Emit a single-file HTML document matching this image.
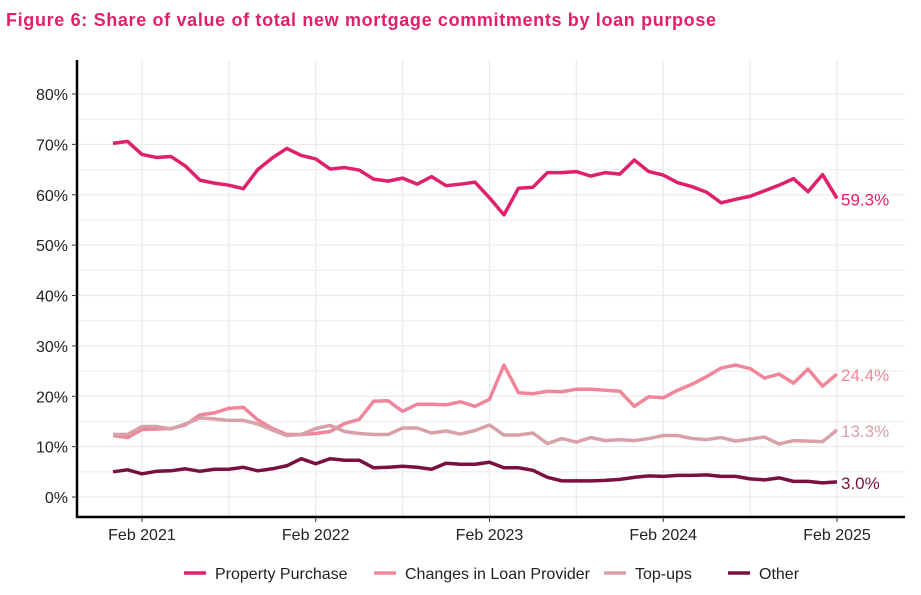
<!DOCTYPE html>
<html><head><meta charset="utf-8"><style>
body{margin:0;background:#fff;font-family:"Liberation Sans",Arial,sans-serif}
</style></head><body>
<svg id="c" width="921" height="590" xmlns="http://www.w3.org/2000/svg">
<text x="6" y="26" fill="#e0206b" font-size="18" font-weight="bold" textLength="710" lengthAdjust="spacing">Figure 6:  Share of value of total new mortgage commitments by loan purpose</text>
<g id="grid"></g><g id="axes"></g><g id="lines"></g><g id="legend"></g>
</svg>
<script>
const months = 51; // Dec 2020 .. Feb 2025
const xTickLabels = ["Feb 2021","Feb 2022","Feb 2023","Feb 2024","Feb 2025"];
const xTickIdx = [2,14,26,38,50];
const yTicks = [0,10,20,30,40,50,60,70,80];
const propertyPurchase = [70.2,70.6,68,67.4,67.6,65.7,62.9,62.3,61.9,61.2,65,67.3,69.2,67.8,67.1,65.1,65.4,64.9,63.1,62.7,63.3,62.1,63.6,61.8,62.1,62.5,59.4,56,61.3,61.5,64.4,64.4,64.6,63.7,64.4,64.1,66.9,64.6,63.9,62.4,61.6,60.5,58.4,59.1,59.7,60.8,61.9,63.2,60.6,64.0,59.3];
const changesProvider = [12.2,11.8,13.4,13.5,13.6,14.3,16.3,16.7,17.6,17.8,15.3,13.6,12.4,12.4,12.6,13.0,14.6,15.4,19.0,19.1,17.0,18.4,18.4,18.3,18.9,18.0,19.4,26.2,20.7,20.5,21.0,20.9,21.4,21.4,21.2,21.0,18.0,19.9,19.7,21.2,22.4,23.9,25.6,26.2,25.5,23.6,24.4,22.6,25.4,22.0,24.4];
const topUps = [12.4,12.4,14.0,14.0,13.5,14.5,15.7,15.5,15.2,15.2,14.5,13.3,12.2,12.4,13.6,14.2,13.0,12.6,12.4,12.4,13.7,13.7,12.7,13.1,12.5,13.2,14.3,12.3,12.3,12.7,10.6,11.6,10.9,11.8,11.2,11.4,11.2,11.6,12.2,12.2,11.6,11.4,11.8,11.1,11.5,11.9,10.5,11.2,11.1,11.0,13.3];
const other = [5.0,5.4,4.6,5.1,5.2,5.6,5.1,5.5,5.5,5.9,5.2,5.6,6.2,7.6,6.6,7.6,7.3,7.3,5.8,5.9,6.1,5.9,5.5,6.7,6.5,6.5,6.9,5.8,5.8,5.3,3.9,3.2,3.2,3.2,3.3,3.5,3.9,4.2,4.1,4.3,4.3,4.4,4.1,4.1,3.6,3.4,3.8,3.1,3.1,2.8,3.0];
const seriesNames = ["Property Purchase","Changes in Loan Provider","Top-ups","Other"];
const seriesData = [propertyPurchase, changesProvider, topUps, other];
const colors = ["#e0206b","#f0869a","#d8a0a8","#7a1040"];

const NS="http://www.w3.org/2000/svg";
const x = i => 113 + i*(837-113)/(months-1);
const y = v => 497 - v*(497-94)/80;
function mk(tag, attrs, parent){const e=document.createElementNS(NS,tag);for(const k in attrs)e.setAttribute(k,attrs[k]);parent.appendChild(e);return e;}
const grid=document.getElementById('grid'), axes=document.getElementById('axes'), lines=document.getElementById('lines'), legend=document.getElementById('legend');
for(let v=0; v<=80; v+=5){
  const g=mk('line',{x1:78,x2:905,y1:y(v),y2:y(v),stroke:'#ebebeb','stroke-width':v%10?1:1.3},grid);
  
  
}
for(let i=2-6;i<=months;i+=6){
  if(x(i)<78) continue;
  const g=mk('line',{x1:x(i),x2:x(i),y1:60,y2:517,stroke:'#ebebeb','stroke-width':1.3},grid);
  
  
}
const ax=mk('path',{d:'M77 60 V517 H905',fill:'none',stroke:'#000','stroke-width':2.5},axes);


yTicks.forEach(v=>{
  const t=mk('text',{x:68,y:y(v)+6,'text-anchor':'end','font-size':16,fill:'#222'},axes);
  t.textContent=v+'%';
  
  
  const k=mk('line',{x1:72,x2:77,y1:y(v),y2:y(v),stroke:'#333'},axes);
  
  
});
xTickLabels.forEach((l,j)=>{
  const t=mk('text',{x:x(xTickIdx[j]),y:540,'text-anchor':'middle','font-size':16,fill:'#222'},axes);
  t.textContent=l;
  
  
  const k=mk('line',{x1:x(xTickIdx[j]),x2:x(xTickIdx[j]),y1:517,y2:522,stroke:'#333'},axes);
  
  
});
const endNames=['label-property-purchase','label-changes-provider','label-top-ups','label-other'];
seriesData.forEach((d,s)=>{
  const p=mk('polyline',{points:d.map((v,i)=>x(i)+','+y(v)).join(' '),fill:'none',stroke:colors[s],'stroke-width':3.5,'stroke-linejoin':'round'},lines);
  
  
  const last=d[d.length-1];
  const t=mk('text',{x:841,y:y(last)+7,'font-size':17,fill:colors[s]},lines);
  t.textContent=last.toFixed(1)+'%';
  
  
});
const legX=[184,374,604,728];
seriesNames.forEach((n,s)=>{
  const g=mk('g',{},legend);
  
  
  mk('line',{x1:legX[s],x2:legX[s]+22,y1:573,y2:573,stroke:colors[s],'stroke-width':3.5},g);
  const t=mk('text',{x:legX[s]+31,y:579,'font-size':16,fill:'#222'},g);
  t.textContent=n;
});
</script>
</body></html>
